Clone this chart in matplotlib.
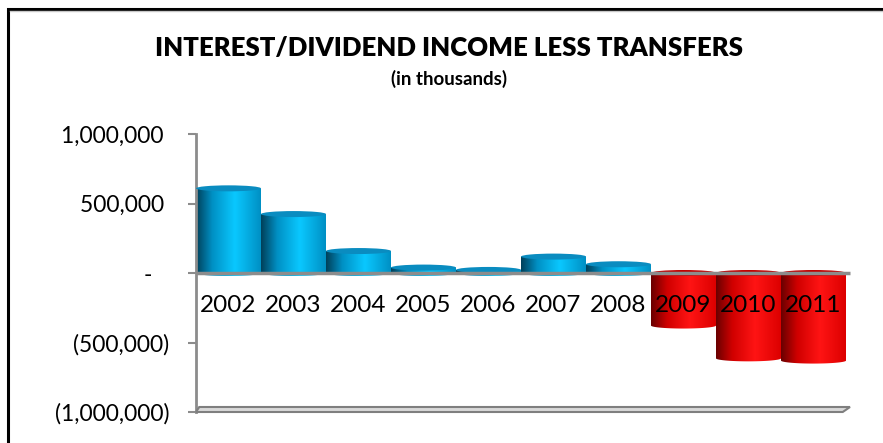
import numpy as np
import matplotlib
matplotlib.use('Agg')
import matplotlib.pyplot as plt
from matplotlib.colors import LinearSegmentedColormap
from matplotlib.patches import Ellipse, PathPatch, Polygon, Rectangle
from matplotlib.path import Path
from matplotlib import transforms

# income less transfers, in thousands
years = ['2002', '2003', '2004', '2005', '2006', '2007', '2008', '2009', '2010', '2011']
income = [609000, 424000, 158000, 39000, 22000, 118000, 63000, -378000, -614000, -630000]
ytick_vals = [1000000, 500000, 0, -500000, -1000000]
ytick_text = ['1,000,000 ', '500,000 ', '-   ', '(500,000)', '(1,000,000)']

plt.rcParams['font.family'] = ['Lato', 'DejaVu Sans']

W, H = 883, 443
fig = plt.figure(figsize=(W / 100, H / 100), dpi=100)
ax = fig.add_axes([196 / W, 31 / H, 650 / W, 278 / H])
ax.set_xlim(-0.5, 9.5)
ax.set_ylim(-1000000, 1000000)

px = 2000000 / 278.0          # data units per pixel (vertical)
ell_h = 6 * px                # height of the cylinder caps

blue_cm = LinearSegmentedColormap.from_list('blu', [(0, '#00405a'), (0.25, '#0090c4'),
                                                   (0.6, '#0ac8ff'), (1, '#0090c4')])
red_cm = LinearSegmentedColormap.from_list('rd', [(0, '#6a0000'), (0.25, '#d00000'),
                                                 (0.6, '#ff1414'), (1, '#dc0000')])
grad = np.linspace(0, 1, 200).reshape(1, -1)

bars = ax.bar(range(len(years)), income, width=1.0, color='none', edgecolor='none')
for b, v in zip(bars, income):
    x0 = b.get_x()
    x1 = x0 + b.get_width()
    xc = (x0 + x1) / 2
    y_lo = min(b.get_y(), b.get_y() + b.get_height())
    y_hi = max(b.get_y(), b.get_y() + b.get_height())
    cm = blue_cm if v >= 0 else red_cm
    cap = '#0a8cc0' if v >= 0 else '#c00000'

    # body outline: rectangle with a rounded lower edge
    t = np.linspace(np.pi, 2 * np.pi, 40)
    verts = [(x0, y_hi)] + list(zip(xc + 0.5 * np.cos(t), y_lo + ell_h / 2 * np.sin(t))) + [(x1, y_hi), (x0, y_hi)]
    clip = PathPatch(Path(verts), transform=ax.transData, facecolor='none', edgecolor='none')
    ax.add_patch(clip)
    im = ax.imshow(grad, cmap=cm, extent=[x0, x1, y_lo - ell_h, y_hi], aspect='auto',
                   interpolation='bilinear', zorder=2)
    im.set_clip_path(clip)
    ax.add_patch(Ellipse((xc, y_hi), 1.0, ell_h, facecolor=cap, edgecolor='none', zorder=3))

ax.set_xlim(-0.5, 9.5)
ax.set_ylim(-1000000, 1000000)

# zero line and floor
dx = 4 / 65.0
ax.plot([-0.5, 9.5 + dx], [0, 0], color='#8c8c8c', lw=2.5, zorder=4, clip_on=False,
        solid_capstyle='butt')
floor = Polygon([(-0.5, -1000000), (9.5 - 0.05, -1000000), (9.5 + dx, -1000000 + 5 * px),
                 (-0.5 + 0.05, -1000000 + 5 * px)], closed=True, facecolor='#d9d9d9',
                edgecolor='#7f7f7f', lw=1.5, clip_on=False, zorder=4)
ax.add_patch(floor)

for s in ['top', 'right', 'bottom']:
    ax.spines[s].set_visible(False)
ax.spines['left'].set_color('#8c8c8c')
ax.spines['left'].set_linewidth(2)
ax.set_xticks([])
ax.set_yticks(ytick_vals)
ax.set_yticklabels(ytick_text, fontsize=16.5)
ax.tick_params(axis='y', length=6, width=1.5, color='#8c8c8c', pad=13)

# year labels just under the zero line
off = transforms.offset_copy(ax.transData, fig=fig, x=0, y=-33, units='dots')
for i, yr in enumerate(years):
    ax.text(i, 0, yr, transform=off, ha='center', va='center', fontsize=17.5, zorder=6)

fig.text(449 / W, 1 - 48 / H, 'INTEREST/DIVIDEND INCOME LESS TRANSFERS', ha='center',
         va='center', fontsize=18.5, fontweight='heavy')
fig.text(449 / W, 1 - 79 / H, '(in thousands)', ha='center', va='center', fontsize=13.5,
         fontweight='bold')

# chart frame
fig.add_artist(Rectangle((8 / W, -0.2), 1.2, 1.2 - 8.5 / H, transform=fig.transFigure,
                         fill=False, edgecolor='black', lw=2.2))
fig.add_artist(plt.Line2D([10 / W, 1], [1 - 11 / H, 1 - 11 / H], transform=fig.transFigure,
                          color='#c8c8c8', lw=1))

fig.savefig('out.png', dpi=100)
